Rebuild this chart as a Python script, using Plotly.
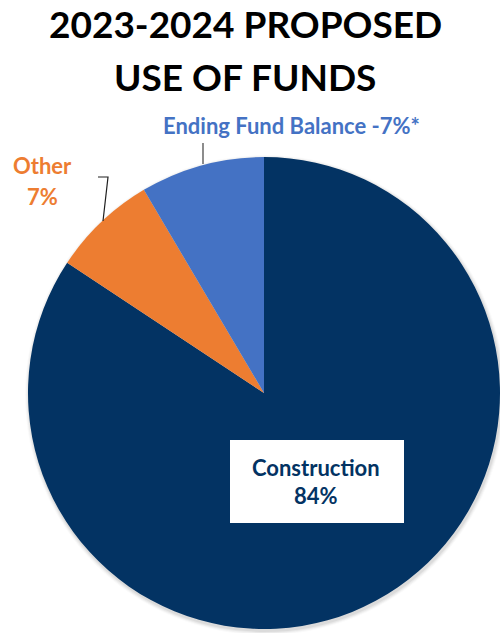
import plotly.graph_objects as go

labels = ["Construction", "Other", "Ending Fund Balance"]
values = [84.3, 7.2, 8.5]
colors = ["#033363", "#ED7D31", "#4472C4"]
title_lines = ["2023-2024 PROPOSED", "USE OF FUNDS"]

W, H = 500, 633
FONT = "Lato"

def px(x):
    return x / W

def py(y):
    return 1 - y / H

fig = go.Figure()
fig.add_trace(go.Pie(
    labels=labels, values=values, sort=False, direction="clockwise", rotation=0,
    marker=dict(colors=colors, line=dict(width=0)),
    textinfo="none", hoverinfo="label+percent", showlegend=False,
    domain=dict(x=[px(28), 1.0], y=[py(629), py(157)]),
))

# soft shadow rings behind the pie
cx, cy, r = 264, 393, 236
shapes = []
for i, a in enumerate([0.05, 0.04, 0.03, 0.02]):
    rr = r + 1 + i
    ox, oy = 1, 2
    shapes.append(dict(type="circle", xref="paper", yref="paper", layer="below",
                       x0=px(cx + ox - rr), x1=px(cx + ox + rr),
                       y0=py(cy + oy + rr), y1=py(cy + oy - rr),
                       fillcolor=f"rgba(0,0,0,{a})", line=dict(width=0)))
# construction label box
shapes.append(dict(type="rect", xref="paper", yref="paper", layer="above",
                   x0=px(230), x1=px(404), y0=py(523), y1=py(440),
                   fillcolor="white", line=dict(width=0)))
# leader lines
shapes.append(dict(type="line", xref="paper", yref="paper",
                   x0=px(203), x1=px(203), y0=py(143), y1=py(164),
                   line=dict(color="#404040", width=1.2)))
shapes.append(dict(type="path", xref="paper", yref="paper",
                   path=f"M {px(98)} {py(177)} L {px(108)} {py(177)} L {px(103)} {py(221)}",
                   line=dict(color="#202020", width=1.2)))

ann = []
ann.append(dict(text=f"<b>{title_lines[0]}</b>", x=px(245), y=py(24), font=dict(size=37, color="black", family=FONT)))
ann.append(dict(text=f"<b>{title_lines[1]}</b>", x=px(245), y=py(76), font=dict(size=37, color="black", family=FONT)))
ann.append(dict(text="<b>Ending Fund Balance -7%*</b>", x=px(291), y=py(125), font=dict(size=22, color="#4472C4", family=FONT)))
ann.append(dict(text="<b>Other</b>", x=px(42), y=py(165), font=dict(size=22, color="#ED7D31", family=FONT)))
ann.append(dict(text="<b>7%</b>", x=px(42), y=py(196), font=dict(size=22, color="#ED7D31", family=FONT)))
ann.append(dict(text="<b>Construction</b>", x=px(316), y=py(467), font=dict(size=22, color="#033363", family=FONT)))
ann.append(dict(text="<b>84%</b>", x=px(316), y=py(495), font=dict(size=22, color="#033363", family=FONT)))
for a in ann:
    a.update(xref="paper", yref="paper", showarrow=False, xanchor="center", yanchor="middle")

fig.update_layout(width=W, height=H, margin=dict(l=0, r=0, t=0, b=0),
                  paper_bgcolor="white", plot_bgcolor="white",
                  shapes=shapes, annotations=ann)
fig.write_html("out.html")
